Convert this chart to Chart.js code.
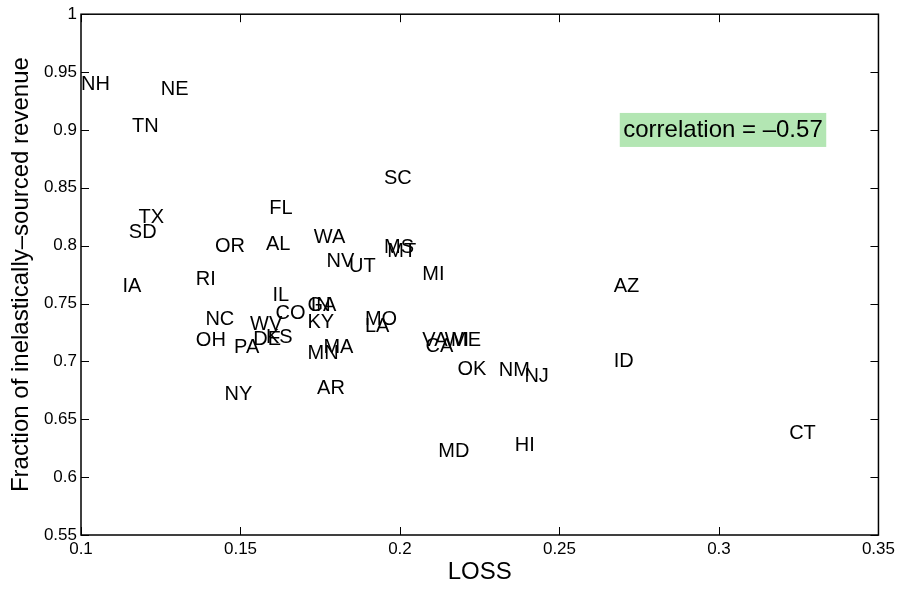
<!DOCTYPE html>
<html>
<head>
<meta charset="utf-8">
<title>Fraction of inelastically-sourced revenue vs LOSS</title>
<script src="https://cdn.jsdelivr.net/npm/chart.js@4.4.1/dist/chart.umd.min.js"></script>
<style>
  html, body { margin: 0; padding: 0; background: #fff; }
  canvas { display: block; }
</style>
</head>
<body>
<canvas id="lossChart" width="899" height="589"></canvas>
<script>
  // State labels, LOSS (x) and fraction of inelastically-sourced revenue (y)
  const states = ['NH','NE','TN','SC','FL','TX','SD','OR','AL','WA','MS','MT','NV','UT','MI','RI','IA','AZ',
                  'IL','GA','IN','CO','KY','NC','WV','MO','LA','OH','DE','KS','PA','VA','CA','WI','ME',
                  'MN','MA','OK','NM','NJ','ID','NY','AR','MD','HI','CT'];
  const loss = [0.100, 0.125, 0.116, 0.195, 0.159, 0.118, 0.115, 0.142, 0.158, 0.173, 0.195, 0.196, 0.177, 0.184, 0.207, 0.136, 0.113, 0.267,
                0.160, 0.171, 0.172, 0.161, 0.171, 0.139, 0.153, 0.189, 0.189, 0.136, 0.154, 0.158, 0.148, 0.207, 0.208, 0.214, 0.216,
                0.171, 0.176, 0.218, 0.231, 0.239, 0.267, 0.145, 0.174, 0.212, 0.236, 0.322];
  const fraction = [0.939, 0.935, 0.903, 0.858, 0.832, 0.824, 0.811, 0.799, 0.801, 0.807, 0.798, 0.795, 0.786, 0.782, 0.775, 0.771, 0.765, 0.765,
                    0.757, 0.748, 0.748, 0.741, 0.734, 0.736, 0.732, 0.736, 0.730, 0.718, 0.719, 0.721, 0.712, 0.718, 0.713, 0.718, 0.718,
                    0.707, 0.712, 0.693, 0.692, 0.687, 0.700, 0.671, 0.677, 0.622, 0.627, 0.638];

  const xTicks = [0.1, 0.15, 0.2, 0.25, 0.3, 0.35];
  const xTickLabels = ['0.1', '0.15', '0.2', '0.25', '0.3', '0.35'];
  const yTicks = [0.55, 0.6, 0.65, 0.7, 0.75, 0.8, 0.85, 0.9, 0.95, 1];
  const yTickLabels = ['0.55', '0.6', '0.65', '0.7', '0.75', '0.8', '0.85', '0.9', '0.95', '1'];

  const correlation = -0.57;
  const corrAt = [0.27, 0.9];

  const FONT = '"Liberation Sans", Arial, Helvetica, sans-serif';

  // draws the state abbreviations at each point + the correlation note
  const stateLabels = {
    id: 'stateLabels',
    afterDatasetsDraw(chart) {
      const ctx = chart.ctx;
      const meta = chart.getDatasetMeta(0);
      ctx.save();
      ctx.font = '20px ' + FONT;
      ctx.fillStyle = '#000';
      ctx.textAlign = 'left';
      ctx.textBaseline = 'middle';
      meta.data.forEach((pt, i) => ctx.fillText(states[i], pt.x, pt.y));

      const cx = chart.scales.x.getPixelForValue(corrAt[0]);
      const cy = chart.scales.y.getPixelForValue(corrAt[1]);
      const text = 'correlation = ' + String(correlation).replace('-', '\u2013');
      ctx.font = '24px ' + FONT;
      const w = ctx.measureText(text).width;
      ctx.fillStyle = '#b3e6b3';
      ctx.fillRect(cx - 3.5, cy - 17, w + 7, 34);
      ctx.fillStyle = '#000';
      ctx.fillText(text, cx, cy);
      ctx.restore();
    }
  };

  // matlab style box with inward ticks on all sides
  const axesBox = {
    id: 'axesBox',
    afterDraw(chart) {
      const { ctx, chartArea: a, scales } = chart;
      const len = 8;
      ctx.save();
      ctx.strokeStyle = '#000';
      ctx.lineWidth = 1;
      ctx.beginPath();
      xTicks.forEach(v => {
        const px = Math.round(scales.x.getPixelForValue(v)) + 0.5;
        ctx.moveTo(px, a.bottom); ctx.lineTo(px, a.bottom - len);
        ctx.moveTo(px, a.top); ctx.lineTo(px, a.top + len);
      });
      yTicks.forEach(v => {
        const py = Math.round(scales.y.getPixelForValue(v)) + 0.5;
        ctx.moveTo(a.left, py); ctx.lineTo(a.left + len, py);
        ctx.moveTo(a.right, py); ctx.lineTo(a.right - len, py);
      });
      ctx.stroke();
      ctx.lineWidth = 1.5;
      ctx.strokeRect(a.left, a.top, a.right - a.left, a.bottom - a.top);
      ctx.restore();
    }
  };

  new Chart(document.getElementById('lossChart'), {
    type: 'scatter',
    data: {
      datasets: [{
        data: loss.map((v, i) => ({ x: v, y: fraction[i] })),
        pointRadius: 0,
        pointHoverRadius: 0
      }]
    },
    options: {
      responsive: false,
      animation: false,
      layout: { padding: { top: 11, right: 19, left: 0, bottom: 0 } },
      plugins: { legend: { display: false }, tooltip: { enabled: false } },
      scales: {
        x: {
          type: 'linear', min: 0.1, max: 0.35,
          afterBuildTicks: s => { s.ticks = xTicks.map(v => ({ value: v })); },
          afterFit: s => { s.height = 54; },
          grid: { display: false, drawTicks: false },
          border: { display: false },
          ticks: {
            padding: 4, color: '#000', font: { family: FONT, size: 17 },
            maxRotation: 0,
            callback: v => xTickLabels[xTicks.indexOf(v)]
          },
          title: {
            display: true, text: 'LOSS', color: '#000',
            font: { family: FONT, size: 24, lineHeight: 1.2 },
            padding: { top: 0, bottom: 2 }
          }
        },
        y: {
          type: 'linear', min: 0.55, max: 1,
          afterBuildTicks: s => { s.ticks = yTicks.map(v => ({ value: v })); },
          afterFit: s => { s.width = 81; },
          grid: { display: false, drawTicks: false },
          border: { display: false },
          ticks: {
            padding: 4, color: '#000', font: { family: FONT, size: 17 },
            callback: v => yTickLabels[yTicks.indexOf(v)]
          },
          title: {
            display: true, text: 'Fraction of inelastically\u2013sourced revenue', color: '#000',
            font: { family: FONT, size: 24, lineHeight: 1.2 },
            padding: { top: 7, bottom: 0 }
          }
        }
      }
    },
    plugins: [stateLabels, axesBox]
  });
</script>
</body>
</html>
